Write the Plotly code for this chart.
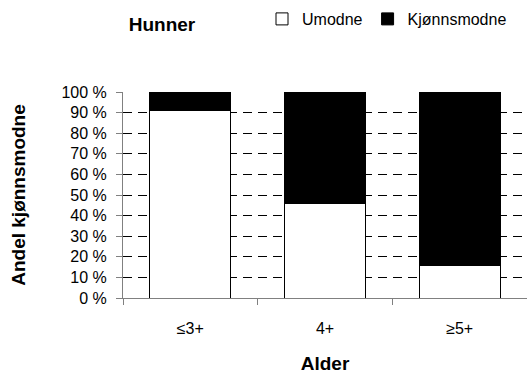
import plotly.graph_objects as go

categories = ["≤3+", "4+", "≥5+"]
umodne = [0.91, 0.46, 0.16]
kjonnsmodne = [0.09, 0.54, 0.84]
ytick_vals = [0, 0.1, 0.2, 0.3, 0.4, 0.5, 0.6, 0.7, 0.8, 0.9, 1.0]
ytick_text = ["0 %", "10 %", "20 %", "30 %", "40 %", "50 %", "60 %", "70 %", "80 %", "90 %", "100 %"]

font = "Liberation Sans, Arial, sans-serif"

fig = go.Figure()
fig.add_trace(go.Bar(x=categories, y=umodne, name="Umodne",
                     marker=dict(color="white", line=dict(color="black", width=1))))
fig.add_trace(go.Bar(x=categories, y=kjonnsmodne, name="Kjønnsmodne",
                     marker=dict(color="black", line=dict(color="black", width=1))))

fig.update_layout(
    width=527, height=374,
    margin=dict(l=123, r=0, t=92, b=76, autoexpand=False),
    barmode="stack", bargap=0.4,
    paper_bgcolor="white", plot_bgcolor="white",
    font=dict(family=font, size=16, color="black"),
    title=dict(text="<b>Hunner</b>", x=162/527, xanchor="center", y=1-24.5/374, yanchor="middle",
               xref="container", yref="container",
               font=dict(size=19, family=font)),
    legend=dict(orientation="h", xref="container", yref="container",
                x=262/527, xanchor="left", y=1-19/374, yanchor="middle",
                font=dict(size=16), traceorder="normal", itemwidth=30,
                bgcolor="rgba(0,0,0,0)", tracegroupgap=0),
    showlegend=True,
)
fig.update_yaxes(range=[0, 1], tickvals=ytick_vals, ticktext=ytick_text,
                 showline=True, linecolor="#808080", linewidth=1,
                 ticks="outside", ticklen=6, tickcolor="#808080", ticklabelstandoff=6,
                 showgrid=True, gridcolor="black", gridwidth=1, griddash="9px,6px",
                 zeroline=False,
                 title=dict(text="<b>Andel kjønnsmodne</b>", font=dict(size=19), standoff=30))
fig.update_xaxes(showline=True, linecolor="#808080", linewidth=1,
                 ticks="outside", ticklen=6, tickcolor="#808080", tickson="boundaries",
                 ticklabelstandoff=16,
                 showgrid=False,
                 title=dict(text="<b>Alder</b>", font=dict(size=19), standoff=24))

fig.write_html("out.html")
